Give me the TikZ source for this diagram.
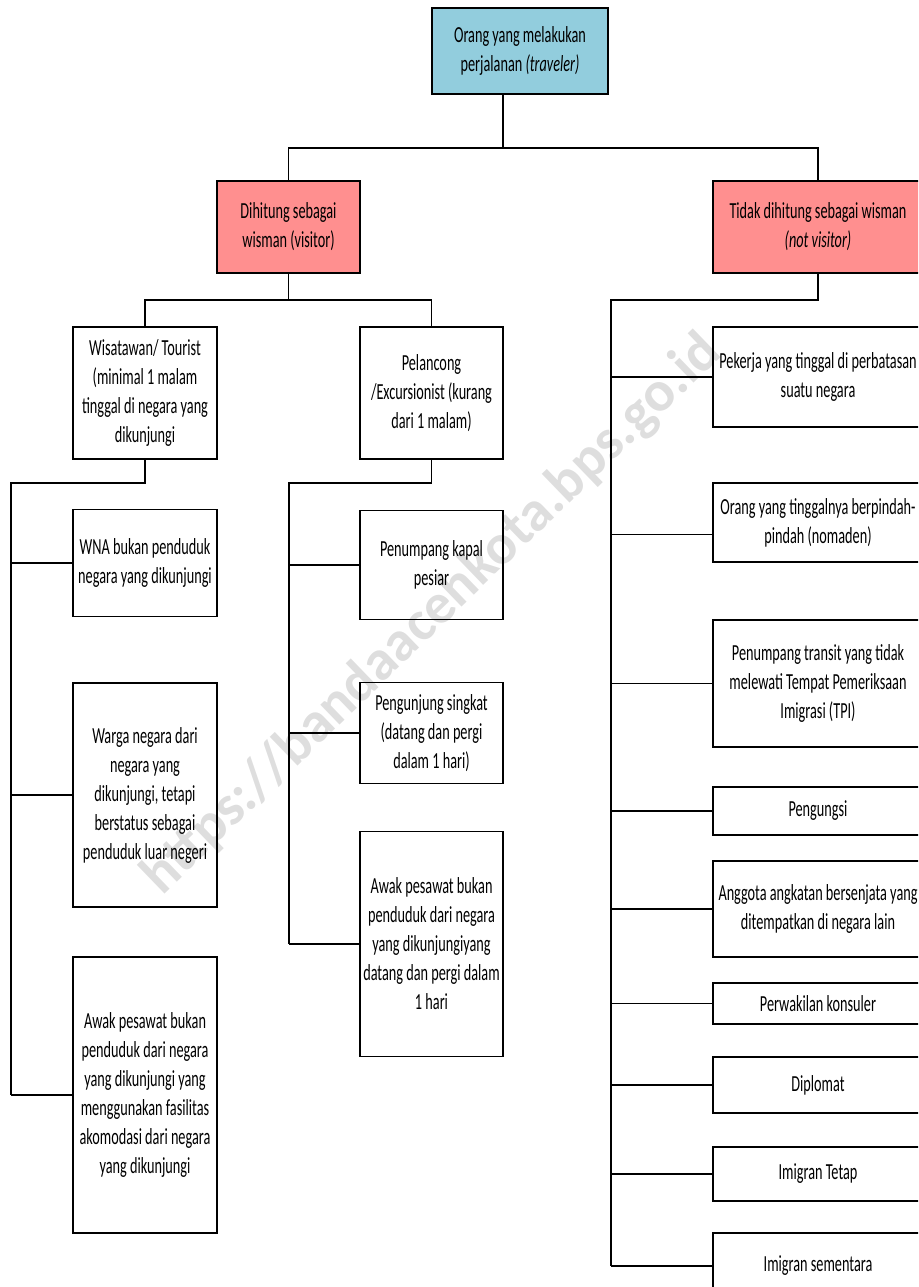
\documentclass[tikz,border=0pt]{standalone}
\usepackage{fontspec}
\setmainfont{Carlito}[FakeStretch=0.62]
\newfontfamily\tandaair{Carlito}
\usepackage{tikz}
\usetikzlibrary{positioning}

\definecolor{biruMuda}{RGB}{146,205,221}
\definecolor{merahMuda}{RGB}{255,143,143}

\tikzset{
  kotak/.style={draw, line width=1.5pt, align=center, inner sep=2pt,
    font=\fontsize{23}{29}\selectfont},
  garis/.style={line width=1.3pt},
}

\begin{document}
\begin{tikzpicture}[x=1pt, y=-1pt]
    \useasboundingbox (0,0) rectangle (918,1287);
    \clip (0,0) rectangle (918,1287);

    % Watermark
    \node[rotate=44, text=black!13, font=\tandaair\bfseries\fontsize{57}{57}\selectfont] (tanda) at (432,615) {https://bandaacehkota.bps.go.id};

    % Top levels
    \node[kotak, fill=biruMuda, minimum width=176pt, minimum height=86pt] (atas) at (520,51) {Orang yang melakukan\\perjalanan \textit{(traveler)}};
    \node[kotak, fill=merahMuda, minimum width=143pt, minimum height=92pt] (wisman) at (288.5,227) {Dihitung sebagai\\wisman (visitor)};
    \node[kotak, fill=merahMuda, minimum width=210pt, minimum height=92pt] (bukan) at (818,227) {Tidak dihitung sebagai wisman\\\textit{(not visitor)}};

    \coordinate (s1) at (503,148);
    \draw[garis] (s1 |- atas.south) -- (s1);
    \draw[garis] (wisman.north) |- (s1) -| (bukan.north);

    % Visitor
    \node[kotak, minimum width=144pt, minimum height=132pt] (turis) at (145,393) {Wisatawan/ Tourist\\(minimal 1 malam\\tinggal di negara yang\\dikunjungi};
    \node[kotak, minimum width=143pt, minimum height=132pt] (pelancong) at (431.5,393) {Pelancong\\/Excursionist (kurang\\dari 1 malam)};

    \coordinate (s2) at (288.5,300);
    \draw[garis] (wisman.south) -- (s2);
    \draw[garis] (turis.north) |- (s2) -| (pelancong.north);

    % Tourist
    \node[kotak, minimum width=144pt, minimum height=107pt] (wna) at (145,563) {WNA bukan penduduk\\negara yang dikunjungi};
    \node[kotak, minimum width=144pt, minimum height=224pt] (warga) at (145,795) {Warga negara dari\\negara yang\\dikunjungi, tetapi\\berstatus sebagai\\penduduk luar negeri};
    \node[kotak, minimum width=144pt, minimum height=276pt] (awakA) at (145,1095) {Awak pesawat bukan\\penduduk dari negara\\yang dikunjungi yang\\menggunakan fasilitas\\akomodasi dari negara\\yang dikunjungi};

    \coordinate (kiri) at (11,483);
    \draw[garis] (turis.south) |- (kiri) -- (kiri |- awakA.west);
    \foreach \n in {wna, warga, awakA}
      \draw[garis] (\n.west) -- (\n.west -| kiri);

    % Excursionist
    \node[kotak, minimum width=143pt, minimum height=109pt] (kapal) at (431.5,565) {Penumpang kapal\\pesiar};
    \node[kotak, minimum width=143pt, minimum height=101pt] (singkat) at (431.5,733) {Pengunjung singkat\\(datang dan pergi\\dalam 1 hari)};
    \node[kotak, minimum width=143pt, minimum height=225pt] (awakB) at (431.5,944) {Awak pesawat bukan\\penduduk dari negara\\yang dikunjungiyang\\datang dan pergi dalam\\1 hari};

    \coordinate (tengah) at (289,483);
    \draw[garis] (pelancong.south) |- (tengah) -- (tengah |- awakB.west);
    \foreach \n in {kapal, singkat, awakB}
      \draw[garis] (\n.west) -- (\n.west -| tengah);

    % Not visitor
    \coordinate (kanan) at (611,300);
    \foreach \nama/\ya/\yb/\dy/\isi in {
        pekerja/327/427/0/{Pekerja yang tinggal di perbatasan\\suatu negara},
        nomaden/483/562/-12/{Orang yang tinggalnya berpindah-\\pindah (nomaden)},
        transit/620/747/0/{Penumpang transit yang tidak\\melewati Tempat Pemeriksaan\\Imigrasi (TPI)},
        pengungsi/787/835/0/{Pengungsi},
        anggota/861/957/0/{Anggota angkatan bersenjata yang\\ditempatkan di negara lain},
        konsuler/983/1024/0/{Perwakilan konsuler},
        diplomat/1057/1113/0/{Diplomat},
        tetap/1147/1201/0/{Imigran Tetap},
        sementara/1233/1299/0/{Imigran sementara}} {
      \node[kotak, minimum width=210pt, minimum height={\yb-\ya}] (\nama) at (818,{(\ya+\yb)/2}) {\isi};
      \draw[garis] ([yshift=\dy pt]\nama.west) -- ([yshift=\dy pt]\nama.west -| kanan);
    }
    \draw[garis] (bukan.south) |- (kanan) -- (kanan |- sementara.west);

\end{tikzpicture}
\end{document}
